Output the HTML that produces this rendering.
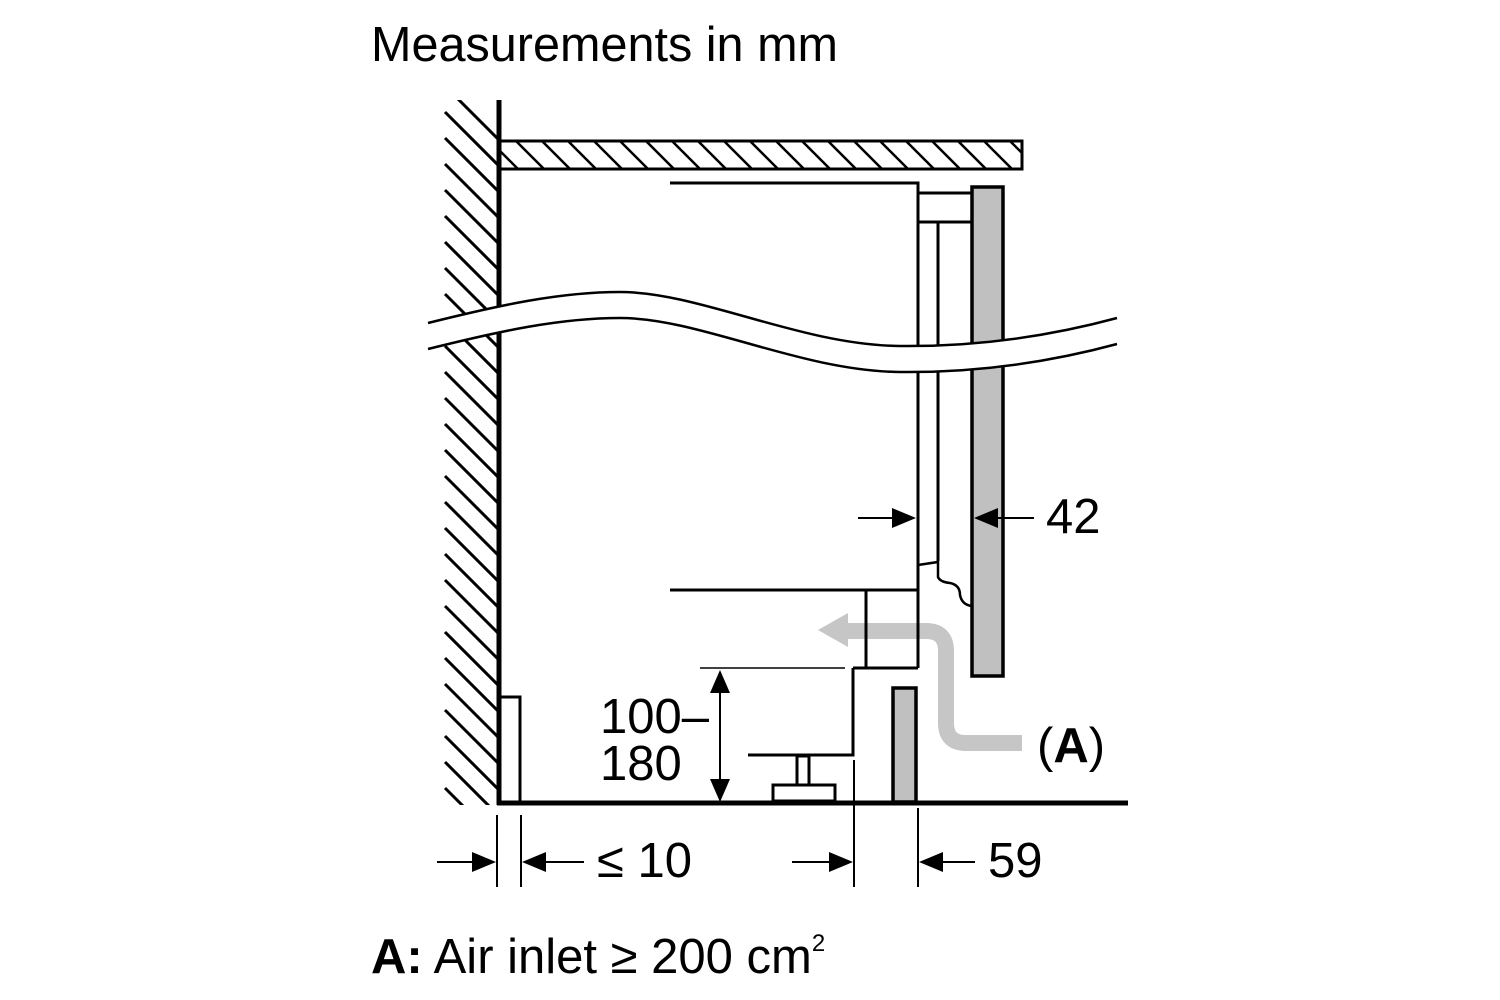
<!DOCTYPE html>
<html><head><meta charset="utf-8"><style>
html,body{margin:0;padding:0;background:#fff;}
svg{display:block;}
text{font-family:"Liberation Sans",Arial,sans-serif;fill:#000;}
</style></head><body>
<svg width="1500" height="1000" viewBox="0 0 1500 1000" xmlns="http://www.w3.org/2000/svg">
<defs>
<clipPath id="wc"><rect x="440" y="100" width="57" height="705"/></clipPath>
<clipPath id="sc"><rect x="500" y="142" width="521" height="26"/></clipPath>
</defs>
<text x="371" y="61" font-size="49" textLength="467" lengthAdjust="spacingAndGlyphs">Measurements in mm</text>

<!-- wall hatch -->
<g clip-path="url(#wc)" stroke="#000" stroke-width="3">
<path d="M445,86 l60,60 M445,112 l60,60 M445,138 l60,60 M445,164 l60,60 M445,190 l60,60 M445,216 l60,60 M445,242 l60,60 M445,268 l60,60 M445,294 l60,60 M445,320 l60,60 M445,346 l60,60 M445,372 l60,60 M445,398 l60,60 M445,424 l60,60 M445,450 l60,60 M445,476 l60,60 M445,502 l60,60 M445,528 l60,60 M445,554 l60,60 M445,580 l60,60 M445,606 l60,60 M445,632 l60,60 M445,658 l60,60 M445,684 l60,60 M445,710 l60,60 M445,736 l60,60 M445,762 l60,60 M445,788 l60,60"/>
</g>
<line x1="499" y1="100" x2="499" y2="805" stroke="#000" stroke-width="5"/>

<!-- shelf -->
<rect x="500" y="141" width="522" height="28" fill="#fff" stroke="#000" stroke-width="3"/>
<g clip-path="url(#sc)" stroke="#000" stroke-width="2.5">
<path d="M490,141 l28,28 M516,141 l28,28 M542,141 l28,28 M568,141 l28,28 M594,141 l28,28 M620,141 l28,28 M646,141 l28,28 M672,141 l28,28 M698,141 l28,28 M724,141 l28,28 M750,141 l28,28 M776,141 l28,28 M802,141 l28,28 M828,141 l28,28 M854,141 l28,28 M880,141 l28,28 M906,141 l28,28 M932,141 l28,28 M958,141 l28,28 M984,141 l28,28 M1010,141 l28,28"/>
</g>

<!-- grey air arrow (under lines) -->
<path d="M846,631 L926,631 Q946,631 946,651 L946,723 Q946,743 966,743 L1022,743" fill="none" stroke="#c6c6c6" stroke-width="16"/>
<polygon points="818,630 848,613 848,647" fill="#c6c6c6"/>

<g stroke="#000" fill="none">
<path d="M670,183 L918,183 L918,668" stroke-width="3"/>
<path d="M918,193 L972,193 M918,222 L972,222" stroke-width="3"/>
<path d="M938,222 L938,561" stroke-width="3"/>
<path d="M918,565 L938,562 L938,577 Q940,582 950,583 Q960,585 960,595 Q962,605 972,606" stroke-width="2.5"/>
<path d="M670,590 L918,590" stroke-width="3"/>
<path d="M866,590 L866,668 M853,668 L918,668" stroke-width="3"/>
<path d="M853,668 L853,755 L748,755" stroke-width="3"/>
<path d="M700,668 L845,668" stroke-width="1.5"/>
<rect x="797" y="756" width="12" height="29" fill="#fff" stroke-width="3"/>
<rect x="773" y="785" width="62" height="16" fill="#fff" stroke-width="3"/>
<path d="M499,697 L520,697 L520,803" stroke-width="3"/>
</g>
<rect x="972" y="187" width="31" height="489" fill="#c0c0c0" stroke="#000" stroke-width="3.5"/>
<rect x="893" y="688" width="23" height="114" fill="#c0c0c0" stroke="#000" stroke-width="3.5"/>

<!-- wave band -->
<path d="M428,323 C500,305 560,292 620,292 C700,292 800,345 900,346 C1000,347 1080,328 1117,318 L1117,344 C1080,354 1000,373 900,372 C800,371 700,318 620,318 C560,318 500,331 428,349 Z" fill="#fff" stroke="none"/>
<path d="M428,323 C500,305 560,292 620,292 C700,292 800,345 900,346 C1000,347 1080,328 1117,318 M428,349 C500,331 560,318 620,318 C700,318 800,371 900,372 C1000,373 1080,354 1117,344" fill="none" stroke="#000" stroke-width="2.5"/>

<line x1="497" y1="803" x2="1128" y2="803" stroke="#000" stroke-width="5"/>

<g stroke="#000" stroke-width="2">
<line x1="720" y1="690" x2="720" y2="783"/>
<line x1="497" y1="815" x2="497" y2="887"/>
<line x1="521" y1="815" x2="521" y2="887"/>
<line x1="854" y1="760" x2="854" y2="887"/>
<line x1="918" y1="808" x2="918" y2="887"/>
<line x1="437" y1="862" x2="475" y2="862"/>
<line x1="545" y1="862" x2="584" y2="862"/>
<line x1="792" y1="862" x2="832" y2="862"/>
<line x1="940" y1="862" x2="975" y2="862"/>
<line x1="858" y1="518" x2="895" y2="518"/>
<line x1="995" y1="518" x2="1034" y2="518"/>
</g>
<g fill="#000">
<polygon points="720,670 710,693 730,693"/>
<polygon points="720,802 710,779 730,779"/>
<polygon points="496,862 472,852 472,872"/>
<polygon points="522,862 546,852 546,872"/>
<polygon points="853,862 829,852 829,872"/>
<polygon points="919,862 943,852 943,872"/>
<polygon points="916,518 892,508 892,528"/>
<polygon points="974,518 998,508 998,528"/>
</g>
<text x="600" y="733" font-size="49">100–</text>
<text x="600" y="780" font-size="49">180</text>
<text x="597" y="877" font-size="49">≤ 10</text>
<text x="988" y="877" font-size="49">59</text>
<text x="1046" y="533" font-size="49">42</text>
<text x="1037" y="762" font-size="49">(<tspan font-weight="bold">A</tspan>)</text>
<text x="371" y="973" font-size="49">
<tspan font-weight="bold">A:</tspan> Air inlet ≥ 200 cm<tspan font-size="24" dy="-22">2</tspan></text>
</svg>
</body></html>
